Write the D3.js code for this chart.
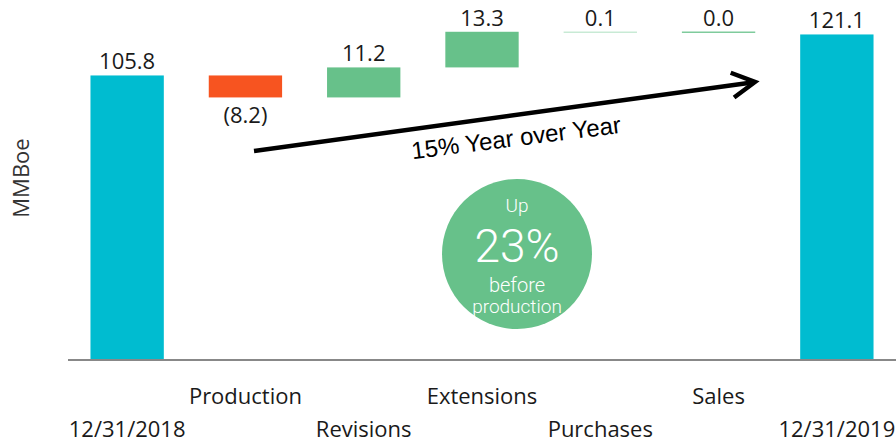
<!DOCTYPE html>
<html><head><meta charset="utf-8">
<script src="https://cdn.jsdelivr.net/npm/d3@7"></script>
<style>body{margin:0;background:#fff}svg{display:block}</style>
</head><body><svg id="c" width="896" height="443"></svg>
<script>
const categories = ["12/31/2018","Production","Revisions","Extensions","Purchases","Sales","12/31/2019"];
const values = [105.8, -8.2, 11.2, 13.3, 0.1, 0.0, 121.1];
const kinds = ["total","delta","delta","delta","delta","delta","total"];
const valueLabels = ["105.8","(8.2)","11.2","13.3","0.1","0.0","121.1"];
const labelRow = [1,0,1,0,1,0,1];

const svg = d3.select("#c");
const font = "'Open Sans','Noto Sans',sans-serif";
const x = d3.scaleBand().domain(categories).range([68,896]).paddingInner(0.38).paddingOuter(0.19);
const y = d3.scaleLinear().domain([0,130]).range([359,10.6]);

let cum = 0;
const bars = categories.map((c,i)=>{
  let y0,y1;
  if(kinds[i]==="total"){ y0=0; y1=values[i]; cum=values[i]; }
  else { y0=cum; y1=cum+values[i]; cum=y1; }
  return {c, y0, y1, v:values[i], kind:kinds[i], label:valueLabels[i], row:labelRow[i], i};
});
const color = d => d.kind==="total" ? "#00BCD0" : (d.v<0 ? "#F75420" : (d.i===4 ? "#C8EAD5" : (d.v===0 ? "#7FCB9C" : "#67C18A")));

svg.selectAll("rect.bar").data(bars).join("rect").attr("class","bar")
  .attr("x",d=>x(d.c)).attr("width",x.bandwidth())
  .attr("y",d=>y(Math.max(d.y0,d.y1)))
  .attr("height",d=>Math.max(1.5, Math.abs(y(d.y0)-y(d.y1))))
  .attr("fill",color);

// value labels
svg.selectAll("text.val").data(bars).join("text").attr("class","val")
  .attr("x",d=>x(d.c)+x.bandwidth()/2)
  .attr("y",d=> d.v<0 ? y(Math.min(d.y0,d.y1))+26 : y(Math.max(d.y0,d.y1))-6)
  .attr("text-anchor","middle").attr("font-family",font).attr("font-size",22)
  .attr("fill","#1a1a1a").text(d=>d.label);

// axis
const xAxis = d3.axisBottom(x).tickSize(0).tickPadding(0);
const ax = svg.append("g").attr("transform","translate(0,359)").call(xAxis);
ax.select(".domain").attr("stroke","#888").attr("stroke-width",2).attr("d","M68,1H896");
ax.selectAll(".tick text").attr("font-family",font).attr("font-size",22).attr("fill","#1a1a1a")
  .attr("dy",null)
  .attr("y",(d,i)=> labelRow[i]===0 ? 45 : 78);

// y title
svg.append("text").attr("transform","translate(29,178) rotate(-90)")
  .attr("text-anchor","middle").attr("font-family",font).attr("font-size",22)
  .attr("fill","#333").text("MMBoe");

// arrow
const a0=[254,151], a1=[755,82];
const ang=Math.atan2(a1[1]-a0[1],a1[0]-a0[0]);
svg.append("line").attr("x1",a0[0]).attr("y1",a0[1]).attr("x2",a1[0]-3*Math.cos(ang)).attr("y2",a1[1]-3*Math.sin(ang))
  .attr("stroke","#000").attr("stroke-width",4.5);
const hl=26, ha=0.5;
const p1=[a1[0]-hl*Math.cos(ang-ha), a1[1]-hl*Math.sin(ang-ha)];
const p2=[a1[0]-hl*Math.cos(ang+ha), a1[1]-hl*Math.sin(ang+ha)];
svg.append("path").attr("d",`M${p1}L${a1}L${p2}`).attr("fill","none").attr("stroke","#000")
  .attr("stroke-width",4.5).attr("stroke-linejoin","miter");
svg.append("text").attr("transform",`translate(517,146) rotate(-7.2)`)
  .attr("text-anchor","middle").attr("font-family","'Liberation Sans',Arial,sans-serif")
  .attr("font-size",24).attr("fill","#000").text("15% Year over Year");

// circle
const g=svg.append("g").attr("transform","translate(517,254)");
g.append("circle").attr("r",75).attr("fill","#67C18A");
const ct=[["Up",-42,19],["23%",8,46],["before",38,20],["production",59,19]];
g.selectAll("text").data(ct).join("text").attr("x",0).attr("y",d=>d[1])
  .attr("text-anchor","middle").attr("font-family","Roboto,sans-serif").attr("font-weight",300)
  .attr("font-size",d=>d[2]).attr("fill","#fff").text(d=>d[0]);
</script></body></html>
